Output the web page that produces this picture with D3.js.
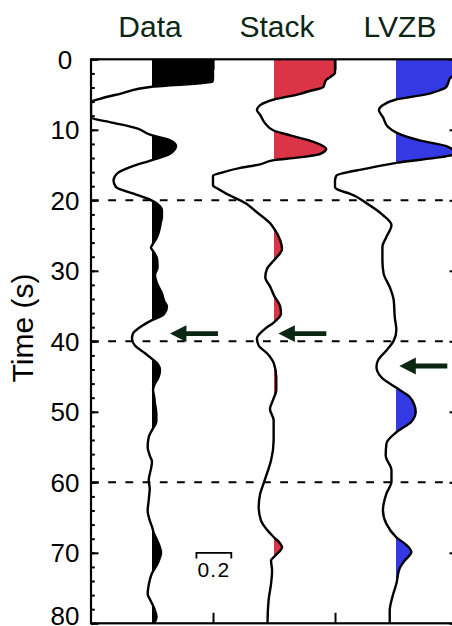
<!DOCTYPE html>
<html>
<head>
<meta charset="utf-8">
<script src="https://cdn.jsdelivr.net/npm/d3@7"></script>
<style>
  body { margin: 0; background: #fff; }
  svg text { font-family: "Liberation Sans", Arial, Helvetica, sans-serif; }
</style>
</head>
<body>
<svg id="chart" width="452" height="626"></svg>
<script>
// ---- trace panels ----
const traceNames = ["Data", "Stack", "LVZB"];
const traceFills = ["#000000", "#db3446", "#3539e3"];
const traceOffsets = [0, 0.7, 1.4];     // horizontal baseline of each trace (amplitude units)
const clipAmp = 0.35;                    // traces are clipped at half the trace spacing

// ---- time axis ----
const timeTicks = [0, 10, 20, 30, 40, 50, 60, 70, 80];
const minorTicks = d3.range(0, 81, 2);
const markerTimes = [20, 40, 60];
const baseTicks = [0.35, 1.05];          // ticks on the top and bottom frame

// ---- Data trace (time s, amplitude) ----
const dataTime = [0, 1.5, 2.6, 3.2, 3.9, 4.9, 5.6, 6.05, 6.6, 7.3, 7.8, 8.27, 8.9, 9.8, 10.7, 11.5, 12.3, 13.4, 14.3, 15.3,
  16.2, 17.2, 18.1, 19.06, 19.9, 20.5, 21.4, 22.4, 23.2, 23.8, 24.4, 25.2, 26.4, 26.7, 27.3, 28.3, 29.5, 30.6, 31.8, 33.2,
  34.3, 35.1, 36.2, 37.0, 38.0, 38.9, 39.6, 40.6, 41.7, 42.5, 43.2, 44.1, 45.1, 46.2, 46.9, 47.9, 48.8, 49.6, 50.3, 51.4,
  52.6, 53.6, 55.0, 56.2, 57.1, 58.1, 59.7, 60.9, 61.8, 62.6, 64.0, 65.4, 66.3, 67.3, 68.2, 69.2, 70.0, 70.8, 71.5, 72.9,
  74.6, 75.8, 76.7, 77.9, 79.1, 80];
const dataAmp = [0.60, 0.50, 0.40, 0.346, 0.0, -0.184, -0.298, -0.35, -0.42, -0.45, -0.40, -0.35, -0.241, -0.086, -0.011, 0.103, 0.138, 0.103, 0.0, -0.126,
  -0.20, -0.221, -0.207, -0.106, -0.011, 0.029, 0.057, 0.057, 0.050, 0.046, 0.040, 0.029, 0.0, -0.006, 0.009, 0.029, 0.032, 0.017, 0.029, 0.057,
  0.070, 0.086, 0.067, 0.0, -0.069, -0.109, -0.115, -0.098, -0.040, 0.0, 0.033, 0.046, 0.037, 0.013, 0.006, 0.013, 0.017, 0.022, 0.025, 0.025,
  0.0, -0.019, -0.025, -0.013, 0.0, -0.006, -0.019, -0.013, -0.016, -0.019, -0.025, -0.013, 0.0, 0.012, 0.029, 0.045, 0.052, 0.044, 0.033, 0.0,
  -0.019, -0.025, -0.010, 0.013, 0.026, 0.013];

// ---- Stack trace ----
const stackTime = [0, 1.2, 1.9, 2.3, 2.6, 2.9, 3.3, 3.9, 4.6, 4.9, 5.7, 6.5, 7.2, 7.9, 9.1, 10.1, 10.8, 11.7, 12.7, 13.4,
  13.95, 14.3, 14.9, 15.4, 16.0, 16.5, 17.2, 17.9, 18.3, 19.8, 20.0, 21.7, 23.3, 24.0, 25.7, 26.9, 28.5, 29.7, 30.9, 32.3,
  33.5, 35.1, 36.1, 37.3, 38.4, 39.6, 40.6, 41.7, 43.2, 45.1, 46.9, 48.1, 49.6, 51.2, 54.0, 56.9, 58.5, 59.9, 61.6, 63.5,
  65.4, 67.0, 67.8, 68.7, 69.2, 70.4, 71.1, 72.5, 74.4, 76.7, 79.8, 80];
const stackAmp = [0.50, 0.42, 0.36, 0.335, 0.318, 0.300, 0.292, 0.284, 0.190, 0.151, 0.0, -0.079, -0.098, -0.079, -0.050, -0.002, 0.094, 0.227, 0.300, 0.266,
  0.132, 0.0, -0.079, -0.193, -0.29, -0.36, -0.40, -0.36, -0.327, -0.212, -0.193, -0.098, -0.021, 0.0, 0.036, 0.046, 0.0, -0.040, -0.050, -0.021,
  0.0, 0.036, 0.040, 0.0, -0.060, -0.098, -0.088, -0.040, 0.0, 0.013, 0.013, -0.002, -0.023, -0.002, -0.002, -0.017, -0.037, -0.056, -0.079, -0.088,
  -0.075, -0.031, 0.0, 0.036, 0.046, 0.007, -0.017, -0.011, -0.017, -0.031, -0.037, -0.037];

// ---- LVZB trace ----
const lvzbTime = [0, 1.0, 1.8, 2.3, 2.7, 3.45, 4.0, 4.4, 4.87, 5.7, 6.5, 7.2, 8.2, 9.6, 10.4, 11.5, 12.3, 12.9, 13.3, 13.6,
  14.7, 15.5, 16.5, 17.2, 18.1, 18.6, 19.05, 20.4, 22.1, 23.5, 25.2, 26.6, 28.5, 30.4, 32.3, 34.2, 36.6, 38.4, 39.9, 41.3,
  42.7, 43.6, 45.1, 46.6, 47.9, 49.0, 50.0, 51.4, 52.9, 54.5, 56.2, 58.3, 59.9, 61.6, 64.0, 65.9, 67.8, 68.9, 69.9, 71.1,
  72.2, 74.4, 76.3, 78.2, 80];
const lvzbAmp = [0.50, 0.45, 0.38, 0.33, 0.31, 0.298, 0.285, 0.250, 0.193, 0.0, -0.075, -0.098, -0.075, -0.046, 0.002, 0.136, 0.289, 0.33, 0.37, 0.32,
  0.002, -0.17, -0.342, -0.40, -0.352, -0.323, -0.266, -0.17, -0.075, -0.026, -0.055, -0.078, -0.078, -0.071, -0.036, -0.013, -0.007, 0.002, -0.013, -0.055,
  -0.103, -0.112, -0.084, 0.002, 0.079, 0.105, 0.113, 0.088, 0.002, -0.055, -0.059, -0.026, -0.026, -0.055, -0.075, -0.055, 0.002, 0.060, 0.088, 0.050,
  0.021, 0.002, -0.021, -0.036, -0.036];

// ---- arrows marking converted phases: trace index, time, tip amplitude ----
const arrowTrace = [0, 1, 2];
const arrowTime = [38.9, 38.9, 43.5];
const arrowAmp = [0.103, 0.025, 0.019];

// ---- amplitude scale bar ----
const scaleBar = { from: 0.255, to: 0.455, time: 70, label: "0.2" };

const traces = [
  { time: dataTime, amp: dataAmp },
  { time: stackTime, amp: stackAmp },
  { time: lvzbTime, amp: lvzbAmp }
];

const ink = "#0c2614";
const svg = d3.select("#chart");
const plotLeft = 91, plotRight = 457, plotTop = 59.3, plotBottom = 623.3;
const svgHeight = 626;

const y = d3.scaleLinear().domain([0, 80]).range([plotTop, plotBottom]);
const x = d3.scaleLinear().domain([-clipAmp, traceOffsets[2] + clipAmp]).range([plotLeft, plotRight]);

const defs = svg.append("defs");
defs.append("clipPath").attr("id", "plot-clip")
  .append("rect").attr("x", plotLeft).attr("y", plotTop)
  .attr("width", plotRight - plotLeft).attr("height", plotBottom - plotTop);

const plot = svg.append("g").attr("clip-path", "url(#plot-clip)");

// dashed time markers
plot.selectAll("line.marker").data(markerTimes).join("line")
  .attr("class", "marker")
  .attr("x1", plotLeft).attr("x2", plotRight)
  .attr("y1", d => y(d)).attr("y2", d => y(d))
  .attr("stroke", "#000").attr("stroke-width", 2)
  .attr("stroke-dasharray", "7.8 9.4");

const clampA = a => Math.max(-clipAmp, Math.min(clipAmp, a));

traces.forEach((tr, i) => {
  const off = traceOffsets[i];
  const pts = tr.time.map((t, k) => ({ t, a: clampA(tr.amp[k]) }));

  // positive lobes are shaded: clip the full area to the right of the baseline
  const cid = "pos-clip-" + i;
  defs.append("clipPath").attr("id", cid)
    .append("rect")
    .attr("x", x(off)).attr("y", plotTop)
    .attr("width", x(off + clipAmp) - x(off) + 1).attr("height", plotBottom - plotTop);

  const area = d3.area()
    .y(d => y(d.t))
    .x0(x(off))
    .x1(d => x(off + d.a))
    .curve(d3.curveMonotoneY);

  plot.append("g").attr("clip-path", `url(#${cid})`)
    .append("path").datum(pts)
    .attr("d", area)
    .attr("fill", traceFills[i]);

  const line = d3.line()
    .y(d => y(d.t))
    .x(d => x(off + d.a))
    .curve(d3.curveMonotoneY);

  plot.append("path").datum(pts)
    .attr("d", line)
    .attr("fill", "none")
    .attr("stroke", "#000")
    .attr("stroke-width", 2.4)
    .attr("stroke-linejoin", "round");
});

// arrows
const headLen = 16.5, headHalf = 8.4, shaftLen = 48, shaftHalf = 2.4;
const arrowData = arrowTrace.map((tr, i) => ({ tr, t: arrowTime[i], a: arrowAmp[i] }));
svg.selectAll("path.arrow").data(arrowData).join("path")
  .attr("class", "arrow")
  .attr("fill", ink)
  .attr("d", d => {
    const tx = x(traceOffsets[d.tr] + d.a), ty = y(d.t);
    return `M${tx},${ty} L${tx + headLen},${ty - headHalf} L${tx + headLen},${ty - shaftHalf}` +
           ` L${tx + shaftLen},${ty - shaftHalf} L${tx + shaftLen},${ty + shaftHalf}` +
           ` L${tx + headLen},${ty + shaftHalf} L${tx + headLen},${ty + headHalf} Z`;
  });

// frame
svg.append("rect")
  .attr("x", plotLeft).attr("y", plotTop)
  .attr("width", plotRight - plotLeft).attr("height", plotBottom - plotTop)
  .attr("fill", "none").attr("stroke", "#000").attr("stroke-width", 2.2);

// side axes: minor and major ticks pointing inward
const leftMinor = svg.append("g").attr("transform", `translate(${plotLeft},0)`)
  .call(d3.axisRight(y).tickValues(minorTicks).tickSize(3.8).tickFormat(""));
const leftMajor = svg.append("g").attr("transform", `translate(${plotLeft},0)`)
  .call(d3.axisRight(y).tickValues(timeTicks).tickSize(7.5).tickFormat(""));
const rightMinor = svg.append("g").attr("transform", `translate(${plotRight},0)`)
  .call(d3.axisLeft(y).tickValues(minorTicks).tickSize(3.8).tickFormat(""));
const rightMajor = svg.append("g").attr("transform", `translate(${plotRight},0)`)
  .call(d3.axisLeft(y).tickValues(timeTicks).tickSize(7.5).tickFormat(""));
[leftMinor, leftMajor, rightMinor, rightMajor].forEach(g => {
  g.select(".domain").remove();
  g.selectAll(".tick line").attr("stroke", "#000").attr("stroke-width", 2);
});

// time labels, centred beside the left axis; the last one is kept inside the page
const labelSize = 26;
const labelHalf = labelSize * 0.36;
svg.append("g").selectAll("text").data(timeTicks).join("text")
  .attr("x", 65).attr("y", d => Math.min(y(d), svgHeight - 1 - labelHalf))
  .attr("dy", "0.36em")
  .attr("text-anchor", "middle")
  .attr("font-size", labelSize)
  .attr("fill", "#000")
  .text(d => d);

// top and bottom frame ticks
const topTicks = svg.append("g").attr("transform", `translate(0,${plotTop})`)
  .call(d3.axisBottom(x).tickValues(baseTicks).tickSize(10.5).tickFormat(""));
const bottomTicks = svg.append("g").attr("transform", `translate(0,${plotBottom})`)
  .call(d3.axisTop(x).tickValues(baseTicks).tickSize(10.5).tickFormat(""));
[topTicks, bottomTicks].forEach(g => {
  g.select(".domain").remove();
  g.selectAll(".tick line").attr("stroke", "#000").attr("stroke-width", 2);
});

// axis title
svg.append("text")
  .attr("transform", `translate(33,328) rotate(-90)`)
  .attr("text-anchor", "middle")
  .attr("font-size", 30)
  .attr("fill", "#000")
  .text("Time (s)");

// trace titles
svg.selectAll("text.title").data(traceNames).join("text")
  .attr("class", "title")
  .attr("x", (d, i) => x(traceOffsets[i]) + [-2, 3, 4][i])
  .attr("y", 37)
  .attr("text-anchor", "middle")
  .attr("font-size", 30)
  .attr("fill", ink)
  .text(d => d);

// amplitude scale bar
const sbY = y(scaleBar.time);
svg.append("path")
  .attr("d", `M${x(scaleBar.from)},${sbY + 5.6} V${sbY} H${x(scaleBar.to)} V${sbY + 5.6}`)
  .attr("fill", "none").attr("stroke", "#000").attr("stroke-width", 1.8);
svg.append("text")
  .attr("x", x((scaleBar.from + scaleBar.to) / 2)).attr("y", sbY + 24.5)
  .attr("text-anchor", "middle")
  .attr("font-size", 21)
  .attr("letter-spacing", 1.2)
  .attr("fill", "#000")
  .text(scaleBar.label);
</script>
</body>
</html>
